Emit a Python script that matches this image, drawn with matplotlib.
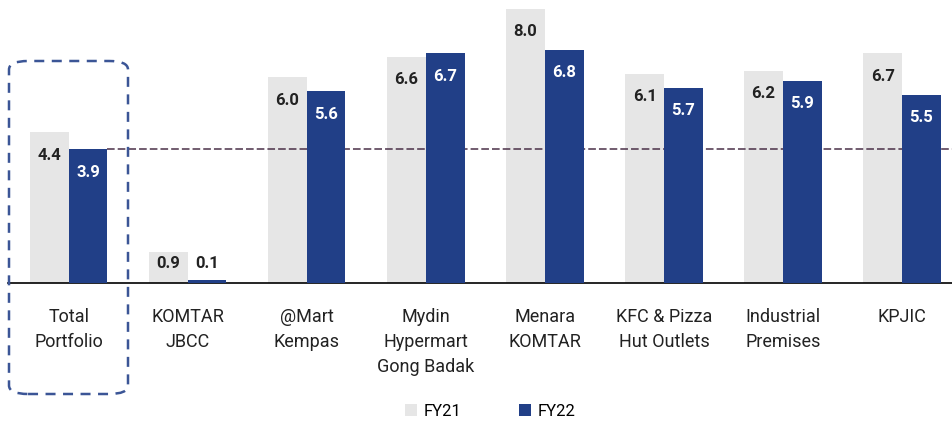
import matplotlib
matplotlib.use("Agg")
import matplotlib.pyplot as plt
from matplotlib.patches import FancyBboxPatch
import numpy as np

categories = ["Total\nPortfolio", "KOMTAR\nJBCC", "@Mart\nKempas", "Mydin\nHypermart\nGong Badak",
              "Menara\nKOMTAR", "KFC & Pizza\nHut Outlets", "Industrial\nPremises", "KPJIC"]
fy21 = [4.4, 0.9, 6.0, 6.6, 8.0, 6.1, 6.2, 6.7]
fy22 = [3.9, 0.1, 5.6, 6.7, 6.8, 5.7, 5.9, 5.5]
series_names = ["FY21", "FY22"]

GRAY = "#E6E6E6"
NAVY = "#213F87"
plt.rcParams["font.family"] = ["Roboto", "DejaVu Sans"]

fig = plt.figure(figsize=(9.52, 4.27), dpi=100)
ax = fig.add_axes([8 / 952, (427 - 284) / 427, 944 / 952, 284 / 427])

x = np.arange(len(categories))
w = 0.325
b1 = ax.bar(x - w / 2, fy21, w, color=GRAY, zorder=2, label=series_names[0])
b2 = ax.bar(x + w / 2, fy22, w, color=NAVY, zorder=4, label=series_names[1])

ax.set_xlim(-0.51, 7.42)
ax.set_ylim(0, 8.29)

# portfolio yield reference line
ax.hlines(fy22[0], x[0] + w, 7.42, colors="#4A3048", linestyles=(0, (5, 2)), lw=1.1, zorder=3)

for xi, v in zip(x, fy21):
    ax.text(xi - w / 2, max(v - 0.64, 0.61), f"{v:.1f}", ha="center", va="center",
            fontsize=12, color="#222222", fontweight="bold", zorder=5)
for xi, v in zip(x, fy22):
    ax.text(xi + w / 2, max(v - 0.64, 0.61), f"{v:.1f}", ha="center", va="center",
            fontsize=12, color="white" if v > 1 else "#222222", fontweight="bold", zorder=5)

for s in ["top", "right", "left"]:
    ax.spines[s].set_visible(False)
ax.spines["bottom"].set_linewidth(1.2)
ax.set_yticks([])
ax.set_xticks(x)
ax.set_xticklabels(categories, fontsize=13, color="#222222", linespacing=1.5)
ax.tick_params(axis="x", length=0, pad=17)

# dashed box round total portfolio
box = FancyBboxPatch((9 / 952, (427 - 395) / 427), 119 / 952, 333 / 427,
                     boxstyle="round,pad=0,rounding_size=0.02", transform=fig.transFigure,
                     fill=False, ec="#3B5596", lw=1.8, ls=(0, (4, 3)), clip_on=False)
fig.patches.append(box)

fig.legend(handles=[b1, b2], loc="center", bbox_to_anchor=(0.515, 1 - 412 / 427), ncol=2,
           frameon=False, fontsize=12, handlelength=0.7, handleheight=0.7, columnspacing=3.5,
           handletextpad=0.4)

fig.savefig("out.png", dpi=100)
